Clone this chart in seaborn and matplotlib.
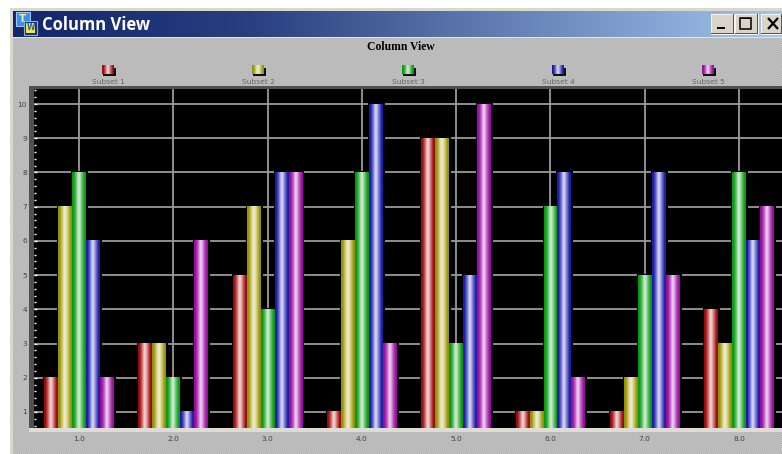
import numpy as np
import pandas as pd
import matplotlib
matplotlib.use("Agg")
import matplotlib.pyplot as plt
from matplotlib.patches import Rectangle
import seaborn as sns

WIDTH, HEIGHT = 782, 454

categories = ["1.0", "2.0", "3.0", "4.0", "5.0", "6.0", "7.0", "8.0"]
series_names = ["Subset 1", "Subset 2", "Subset 3", "Subset 4", "Subset 5"]
subset_1 = [2, 3, 5, 1, 9, 1, 1, 4]
subset_2 = [7, 3, 7, 6, 9, 1, 2, 3]
subset_3 = [8, 2, 4, 8, 3, 7, 5, 8]
subset_4 = [6, 1, 8, 10, 5, 8, 8, 6]
subset_5 = [2, 6, 8, 3, 10, 2, 5, 7]
series_values = [subset_1, subset_2, subset_3, subset_4, subset_5]
y_ticks = list(range(1, 11))

# edge colour and mid colour of each cylinder-shaded column
edge_colors = ["#960c0c", "#94920a", "#0a9a12", "#1c1ca4", "#94109c"]
mid_colors = ["#d06a6a", "#cfc86c", "#62c46c", "#7474d4", "#c45cc8"]

long_table = pd.DataFrame({
    "category": [c for _ in series_names for c in categories],
    "series": [s for s in series_names for _ in categories],
    "value": [v for values in series_values for v in values],
})


def cylinder_shade(edge, mid):
    """One-row RGB ramp: dark rim, mid tone, tinted highlight near the centre."""
    e = np.array(matplotlib.colors.to_rgb(edge))
    m = np.array(matplotlib.colors.to_rgb(mid))
    w = 0.3 * m + 0.7 * np.array([0.97, 0.97, 0.97])
    stops = [e, e, m, w, w, m, e, e]
    pos = [0.0, 0.1, 0.3, 0.44, 0.54, 0.72, 0.92, 1.0]
    t = np.linspace(0, 1, 32)
    row = np.stack([np.interp(t, pos, [s[i] for s in stops]) for i in range(3)], axis=-1)
    return row[np.newaxis, :, :]


fig = plt.figure(figsize=(WIDTH / 100, HEIGHT / 100), dpi=100, facecolor="white")

# window frame, drawn in pixel coordinates on a full-figure layer
chrome = fig.add_axes([0, 0, 1, 1], zorder=0)
chrome.set_xlim(0, WIDTH)
chrome.set_ylim(HEIGHT, 0)
chrome.axis("off")

yy, xx = np.mgrid[38:HEIGHT, 12:WIDTH]
stipple = 0.72 + 0.035 * ((xx + yy) % 2) - 0.025 * ((xx - 2 * yy) % 5 == 0)
chrome.imshow(stipple, extent=(12, WIDTH, HEIGHT, 38), cmap="gray", vmin=0, vmax=1,
              interpolation="nearest", aspect="auto", zorder=0)
chrome.add_patch(Rectangle((10, 8), 2.5, HEIGHT - 8, color="#d8d8cc", lw=0))
chrome.add_patch(Rectangle((10, 8), WIDTH - 10, 2.5, color="#d8d8cc", lw=0))

# title bar gradient
t = np.linspace(0, 1, 256)
navy, sky = np.array([0.07, 0.15, 0.42]), np.array([0.64, 0.77, 0.93])
bar_ramp = np.stack([np.interp(t, [0, 0.3, 1], [navy[i], navy[i] * 0.85 + sky[i] * 0.15, sky[i]])
                     for i in range(3)], axis=-1)[np.newaxis, :, :]
chrome.imshow(bar_ramp, extent=(12.5, WIDTH, 37, 10.5), interpolation="bilinear",
              aspect="auto", zorder=0.5)
chrome.add_patch(Rectangle((12, 37), WIDTH - 12, 1.2, color="#e6e6da", lw=0))

# application icon
chrome.add_patch(Rectangle((16, 12), 14, 14, facecolor="#3d8ee8", edgecolor="#9cc4f0", lw=0.8))
chrome.text(22.5, 18.7, "T", color="#e8f0a0", fontsize=7.5, fontweight="bold", ha="center", va="center")
chrome.add_patch(Rectangle((24, 21), 13, 14, facecolor="#12307a", edgecolor="#8fb0e0", lw=0.8))
chrome.add_patch(Rectangle((26, 23), 9, 10, color="#f2e640", lw=0))
chrome.text(30.5, 28, "W", color="#3060b8", fontsize=5.5, fontweight="bold", ha="center", va="center")

chrome.text(42, 24.5, "Column View", color="white", fontsize=12, fontweight="bold",
            family="Open Sans", ha="left", va="center")

# window buttons
for left, w in [(710.5, 23), (734.5, 23), (761, 21)]:
    chrome.add_patch(Rectangle((left, 13.5), w, 20, facecolor="#d8d4c8", edgecolor="#f4f4f0", lw=0.8))
    chrome.add_patch(Rectangle((left + w - 1, 14), 1.2, 20, color="#555555", lw=0))
    chrome.add_patch(Rectangle((left, 33), w, 1.2, color="#555555", lw=0))
chrome.add_patch(Rectangle((717, 27), 8, 2.4, color="black", lw=0))
chrome.add_patch(Rectangle((739.5, 17.5), 11.5, 11.5, facecolor="none", edgecolor="black", lw=1.1))
chrome.add_patch(Rectangle((739.5, 17.5), 11.5, 1.6, color="black", lw=0))
chrome.plot([768, 778], [18, 29], color="black", lw=1.6, solid_capstyle="butt")
chrome.plot([778, 768], [18, 29], color="black", lw=1.6, solid_capstyle="butt")

chrome.text(400.5, 47, "Column View", color="black", fontsize=8.4, fontweight="bold",
            family="Liberation Serif", ha="center", va="center")

# legend swatches across the top of the plot
legend_x = np.linspace(108, 708, len(series_names))
for cx, name, edge, mid in zip(legend_x, series_names, edge_colors, mid_colors):
    chrome.add_patch(Rectangle((cx - 5, 67.5), 13, 8, color="#111111", lw=0, zorder=1))
    chrome.imshow(cylinder_shade(edge, mid), extent=(cx - 6.5, cx + 5.5, 74, 65.5),
                  interpolation="bilinear", aspect="auto", zorder=2)
    chrome.text(cx, 82, name, color="#666666", fontsize=5.4, ha="center", va="center", zorder=3)

# frame bands around the plotting area
chrome.add_patch(Rectangle((29, 85.5), WIDTH - 29, 4, color="#505050", lw=0, zorder=2))
chrome.add_patch(Rectangle((29, 85.5), 5, 345, color="#505050", lw=0, zorder=2))
chrome.add_patch(Rectangle((29, 428), WIDTH - 29, 3.5, color="#dedcd4", lw=0, zorder=2))
chrome.set_xlim(0, WIDTH)
chrome.set_ylim(HEIGHT, 0)

# main plot
px_left, px_right, px_top, px_bottom = 34, WIDTH, 89, 428
ax = fig.add_axes([px_left / WIDTH, 1 - px_bottom / HEIGHT,
                   (px_right - px_left) / WIDTH, (px_bottom - px_top) / HEIGHT], zorder=2)
sns.barplot(data=long_table, x="category", y="value", hue="series", order=categories,
            hue_order=series_names, palette=edge_colors, saturation=1, width=0.74, gap=0,
            edgecolor="black", linewidth=2.2, legend=False, ax=ax, zorder=3)

for container, edge, mid in zip(ax.containers, edge_colors, mid_colors):
    shade = cylinder_shade(edge, mid)
    for bar in container:
        x0, w, h = bar.get_x(), bar.get_width(), bar.get_height()
        ax.imshow(shade, extent=(x0, x0 + w, 0, h), interpolation="bilinear",
                  aspect="auto", zorder=4)

ax.set_facecolor("black")
ax.set_xlim(-0.477, 7.455)
ax.set_ylim(0.53, 10.44)
ax.set_xlabel("")
ax.set_ylabel("")
ax.set_yticks(y_ticks)
ax.set_yticks(np.arange(0.6, 10.41, 0.2), minor=True)
ax.set_axisbelow(True)
ax.grid(True, which="major", color="#9a9a9a", lw=1.3)
ax.grid(False, which="minor")
for side in ax.spines.values():
    side.set_visible(False)
ax.tick_params(axis="x", length=0, labelsize=5.4, labelcolor="#444444", pad=6)
ax.tick_params(axis="y", which="major", direction="in", color="white", length=2, width=1,
               labelsize=5.4, labelcolor="#444444", pad=5)
ax.tick_params(axis="y", which="minor", direction="in", color="white", length=1.5, width=1)

fig.savefig("out.png", dpi=100)
